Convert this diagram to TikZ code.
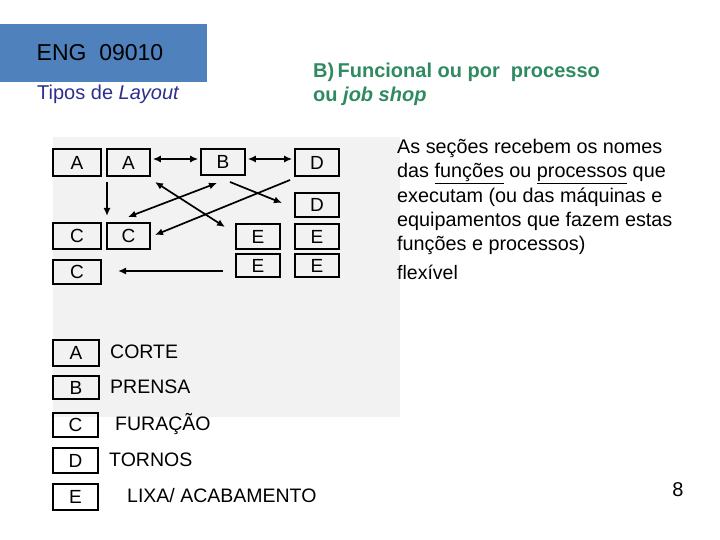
\documentclass[tikz,border=0pt]{standalone}
\usepackage{fontspec}
\setmainfont{Liberation Sans}
\usetikzlibrary{arrows.meta,calc}
\definecolor{hdrblue}{HTML}{4F81BD}
\definecolor{navy}{HTML}{2E2E8E}
\definecolor{grn}{HTML}{2F8A62}
\definecolor{bg}{HTML}{F2F2F2}
\tikzset{
  cell/.style={draw=black, line width=1.6pt, inner sep=0pt, font=\fontsize{19}{19}\selectfont},
  flow/.style={line width=1.7pt, -{Latex[length=8pt,width=7pt]}},
  flow2/.style={line width=1.7pt, {Latex[length=8pt,width=7pt]}-{Latex[length=8pt,width=7pt]}},
  lbl/.style={anchor=west, inner sep=0pt, font=\fontsize{19.5}{19.5}\selectfont},
}
\begin{document}
\begin{tikzpicture}[x=1pt,y=-1pt]
\useasboundingbox (0,0) rectangle (720,540);
% backgrounds
\fill[bg] (53,137) rectangle (400,417);
\fill[hdrblue] (0,24) rectangle (207,82);
\node[font=\fontsize{23}{23}\selectfont, text=black] (eng) at (100,53) {ENG\ \ 09010};
\node[font=\fontsize{20}{20}\selectfont, text=navy, anchor=west, inner sep=0pt] (tipos) at (37,94) {Tipos de \textit{Layout}};
\node[font=\bfseries\fontsize{20}{24}\selectfont, text=grn, anchor=north west, align=left, inner sep=0pt] (title) at (313,63) {B)\,Funcional ou por\ \ processo\\ou \textit{job shop}};
% diagram cells
\node[cell, minimum width=48pt, minimum height=27pt] (a1) at (77,162.5) {A};
\node[cell, minimum width=43pt, minimum height=27pt] (a2) at (128.5,162.5) {A};
\node[cell, minimum width=44pt, minimum height=26pt] (b) at (223,162) {B};
\node[cell, minimum width=44pt, minimum height=27pt] (d1) at (317,162.5) {D};
\node[cell, minimum width=44pt, minimum height=24pt] (d2) at (317,205) {D};
\node[cell, minimum width=48pt, minimum height=26pt] (c1) at (77,236) {C};
\node[cell, minimum width=43pt, minimum height=26pt] (c2) at (128.5,236) {C};
\node[cell, minimum width=44pt, minimum height=25pt] (e1) at (258,236.5) {E};
\node[cell, minimum width=44pt, minimum height=25pt] (e2) at (317,236.5) {E};
\node[cell, minimum width=44pt, minimum height=23pt] (e3) at (258,265.5) {E};
\node[cell, minimum width=44pt, minimum height=23pt] (e4) at (317,265.5) {E};
\node[cell, minimum width=48pt, minimum height=24pt] (c3) at (77,272) {C};
% connectors
\coordinate (p1) at (107,182);
\coordinate (p2) at (107,216);
\coordinate (q1) at (155,182);
\coordinate (q2) at (225,227);
\coordinate (r1) at (217,183);
\coordinate (r2) at (128,217);
\coordinate (s1) at (230,182);
\coordinate (s2) at (282,203);
\coordinate (t1) at (290,180);
\coordinate (t2) at (155,235);
\coordinate (u1) at (223,271);
\coordinate (u2) at (118,271);
\draw[flow2] ($(a2.east)+(2,-3.5)$) -- ($(b.west)+(-2,-3)$);
\draw[flow2] ($(b.east)+(2,-3)$) -- ($(d1.west)+(-2,-3.5)$);
\draw[flow] (p1) -- (p2);
\draw[flow2] (q1) -- (q2);
\draw[flow2] (r1) -- (r2);
\draw[flow] (s1) -- (s2);
\draw[flow] (t1) -- (t2);
\draw[flow] (u1) -- (u2);
% legend
\node[cell, minimum width=46pt, minimum height=26pt] (la) at (76,353) {A};
\node[cell, minimum width=46pt, minimum height=23pt] (lb) at (76,387.5) {B};
\node[cell, minimum width=45pt, minimum height=24pt] (lc) at (75.5,425) {C};
\node[cell, minimum width=45pt, minimum height=25pt] (ld) at (75.5,460.5) {D};
\node[cell, minimum width=45pt, minimum height=26pt] (le) at (75.5,497) {E};
\node[lbl] (ta) at (110,352) {CORTE};
\node[lbl] (tb) at (110,387) {PRENSA};
\node[lbl] (tc) at (115,424) {FURAÇÃO};
\node[lbl] (td) at (109,460) {TORNOS};
\node[lbl] (te) at (127,496) {LIXA/ ACABAMENTO};
% right text
\node[anchor=north west, align=left, inner sep=0pt, font=\fontsize{19.8}{24.3}\selectfont] (desc) at (397,139)
  {As seções recebem os nomes\\das \underline{funções} ou \underline{processos} que\\executam (ou das máquinas e\\equipamentos que fazem estas\\funções e processos)};
\node[lbl] (flex) at (397,272) {flexível};
\node[font=\fontsize{20}{20}\selectfont] (pg) at (678,490) {8};
\end{tikzpicture}
\end{document}
